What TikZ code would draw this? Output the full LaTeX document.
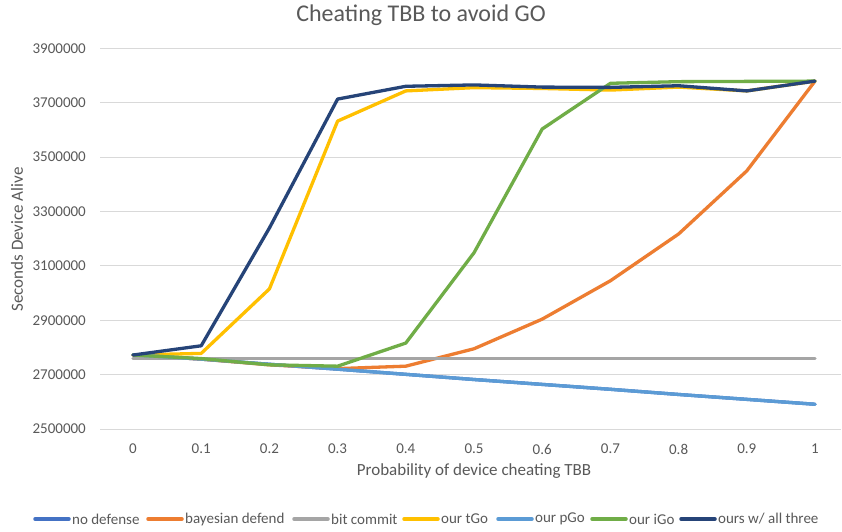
\documentclass[tikz,border=0pt]{standalone}
\usepackage{fontspec}
\setmainfont{Carlito}
\definecolor{txt}{HTML}{595959}
\definecolor{gridc}{HTML}{D9D9D9}
\definecolor{sNo}{HTML}{4472C4}
\definecolor{sBay}{HTML}{ED7D31}
\definecolor{sBit}{HTML}{A5A5A5}
\definecolor{sT}{HTML}{FFC000}
\definecolor{sP}{HTML}{5B9BD5}
\definecolor{sI}{HTML}{70AD47}
\definecolor{sAll}{HTML}{264478}
\begin{document}
\begin{tikzpicture}[x=1pt,y=-1pt,
  series/.style={line width=3.3pt, line join=round, line cap=round},
  gridline/.style={draw=gridc, line width=1pt},
  ticklab/.style={font=\fontsize{15}{18}\selectfont, text=txt, inner sep=0pt},
  axtitle/.style={font=\fontsize{17}{20}\selectfont, text=txt, inner sep=0pt},
  charttitle/.style={font=\fontsize{24}{28}\selectfont, text=txt, inner sep=0pt},
  legline/.style={line width=3.5pt, line cap=round},
  legtext/.style={font=\fontsize{15}{18}\selectfont, text=txt, inner sep=0pt, anchor=west}]
\useasboundingbox (0,0) rectangle (842,531);
\fill[white] (0,0) rectangle (842,531);

% title
\node[charttitle] (title) at (421,15) {Cheating TBB to avoid GO};

% horizontal gridlines and value labels
\foreach \k in {0,...,7}{
  \draw[gridline] (100,{429-54.4*\k}) -- (841,{429-54.4*\k});
  \node[ticklab, anchor=east] (ylab\k) at (86,{429-54.4*\k}) {\the\numexpr 2500000+200000*\k\relax};
}

% category labels
\foreach \lab [count=\i from 0] in {0,0.1,0.2,0.3,0.4,0.5,0.6,0.7,0.8,0.9,1}{
  \node[ticklab] (xlab\i) at ({133+68.2*\i},449) {\lab};
}

% axis titles
\node[axtitle, rotate=90] (ytitle) at (17,239.5) {Seconds Device Alive};
\node[axtitle] (xtitle) at (474,471) {Probability of device cheating TBB};

% data: x = probability, y = (seconds/100000) - 25
\begin{scope}[shift={(133,429)}, x=682pt, y=27.2pt]
  \draw[series, sNo] (0,2.73) -- (0.1,2.57) -- (0.2,2.38) -- (0.3,2.20) -- (0.4,2.01) -- (0.5,1.82)
    -- (0.6,1.64) -- (0.7,1.46) -- (0.8,1.27) -- (0.9,1.09) -- (1,0.91);
  \draw[series, sBay] (0,2.72) -- (0.1,2.57) -- (0.2,2.36) -- (0.3,2.22) -- (0.4,2.31) -- (0.5,2.95)
    -- (0.6,4.04) -- (0.7,5.45) -- (0.8,7.17) -- (0.9,9.49) -- (1,12.79);
  \draw[series, sBit] (0,2.59) -- (1,2.59);
  \draw[series, sT] (0,2.72) -- (0.1,2.78) -- (0.2,5.15) -- (0.3,11.32) -- (0.4,12.43) -- (0.5,12.55)
    -- (0.6,12.52) -- (0.7,12.46) -- (0.8,12.57) -- (0.9,12.43) -- (1,12.79);
  \draw[series, sP] (0,2.73) -- (0.1,2.57) -- (0.2,2.38) -- (0.3,2.20) -- (0.4,2.01) -- (0.5,1.82)
    -- (0.6,1.64) -- (0.7,1.46) -- (0.8,1.27) -- (0.9,1.09) -- (1,0.91);
  \draw[series, sI] (0,2.72) -- (0.1,2.59) -- (0.2,2.36) -- (0.3,2.31) -- (0.4,3.16) -- (0.5,6.48)
    -- (0.6,11.03) -- (0.7,12.71) -- (0.8,12.77) -- (0.9,12.78) -- (1,12.79);
  \draw[series, sAll] (0,2.72) -- (0.1,3.06) -- (0.2,7.39) -- (0.3,12.13) -- (0.4,12.60) -- (0.5,12.65)
    -- (0.6,12.57) -- (0.7,12.56) -- (0.8,12.62) -- (0.9,12.43) -- (1,12.79);
\end{scope}

% legend
\foreach \x/\c/\t [count=\n] in {35/sNo/{no defense}, 148/sBay/{bayesian defend}, 294/sBit/{bit commit},
    404/sT/{our tGo}, 498/sP/{our pGo}, 592/sI/{our iGo}, 681/sAll/{ours w\slash{} all three}}{
  \coordinate (lgA\n) at (\x,519);
  \coordinate (lgB\n) at (\x+34,519);
  \draw[legline, \c] (lgA\n) -- (lgB\n);
  \node[legtext] (lgT\n) at (\x+37,519) {\t};
}
\end{tikzpicture}
\end{document}
